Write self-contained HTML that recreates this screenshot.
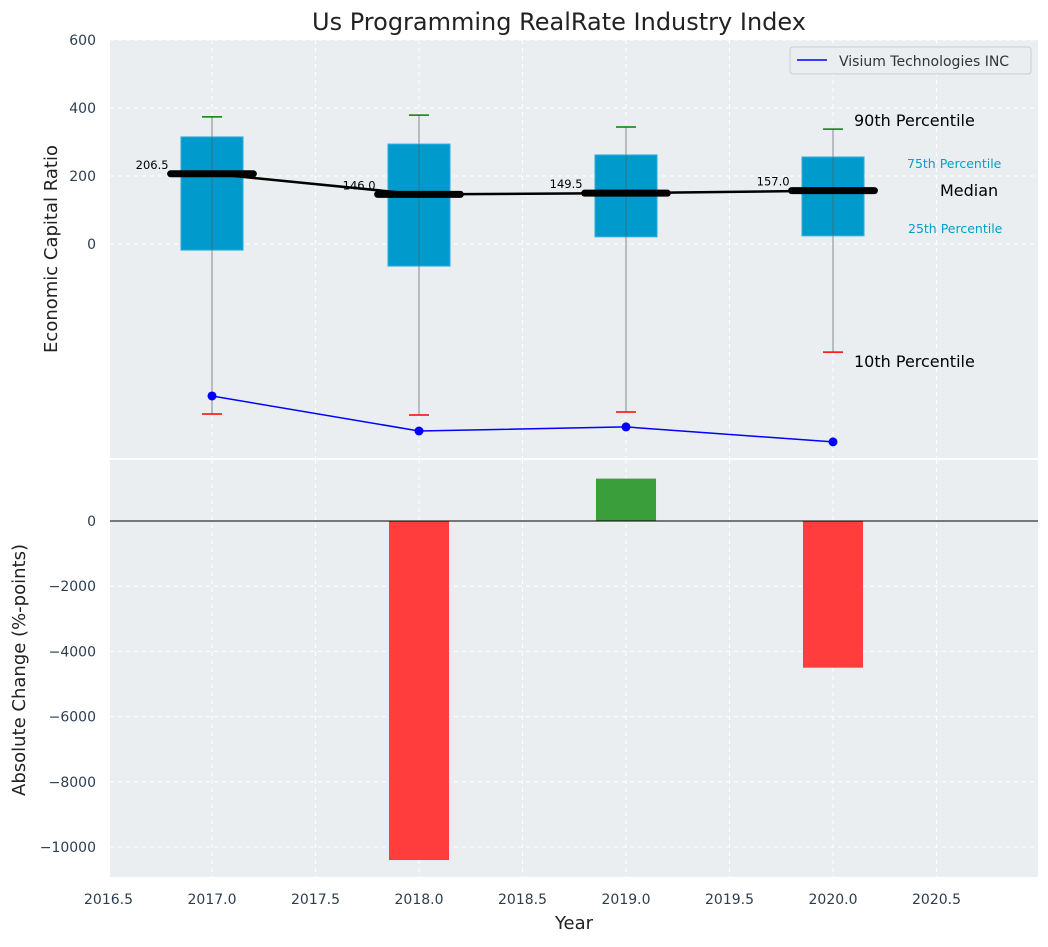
<!DOCTYPE html>
<html><head><meta charset="utf-8">
<style>
body{margin:0;background:#fff;font-family:"Liberation Sans","DejaVu Sans",sans-serif;}
svg text{font-family:"DejaVu Sans","Liberation Sans",sans-serif;}
</style></head>
<body>
<svg id="chart" width="1048" height="942" xmlns="http://www.w3.org/2000/svg">
<text x="559" y="30" text-anchor="middle" font-size="24" fill="#222">Us Programming RealRate Industry Index</text>
</svg>
<script>
const years=[2017,2018,2019,2020];
const p10=[-500,-503,-494,-318];
const p25=[-18,-65,21,24];
const median=[206.5,146.0,149.5,157.0];
const p75=[315,294,262,256];
const p90=[374,379,344,338];
const company=[-447,-550,-538,-582];
const changes=[0,-10400,1300,-4500];
const xTicks=[2016.5,2017.0,2017.5,2018.0,2018.5,2019.0,2019.5,2020.0,2020.5];
const topTicks=[0,200,400,600];
const botTicks=[-10000,-8000,-6000,-4000,-2000,0];

const svg=document.getElementById('chart');
const NS='http://www.w3.org/2000/svg';
function mk(tag,attrs,parent){const e=document.createElementNS(NS,tag);for(const k in attrs)e.setAttribute(k,attrs[k]);(parent||svg).appendChild(e);return e;}
const L=110,R=1038;
const x=v=>212+(v-2017)*207;
const T0=40,T1=458, yT=v=>244-v*0.34;
const B0=460,B1=877, yB=v=>521-v*0.0326;

// backgrounds
let e=mk('rect',{x:L,y:T0,width:R-L,height:T1-T0,fill:'#eaeef0'});

e=mk('rect',{x:L,y:B0,width:R-L,height:B1-B0,fill:'#eaeef0'});


// grid
xTicks.forEach(t=>{
  mk('line',{x1:x(t),x2:x(t),y1:T0,y2:T1,stroke:'#fff','stroke-dasharray':'4,4','stroke-width':1});
  mk('line',{x1:x(t),x2:x(t),y1:B0,y2:B1,stroke:'#fff','stroke-dasharray':'4,4','stroke-width':1});
  e=mk('text',{x:x(t),y:904,'text-anchor':'middle','font-size':14,fill:'#2c3e50'});e.textContent=t.toFixed(1);
  
});
topTicks.forEach(t=>{
  mk('line',{x1:L,x2:R,y1:yT(t),y2:yT(t),stroke:'#fff','stroke-dasharray':'4,4'});
  e=mk('text',{x:96,y:yT(t)+5,'text-anchor':'end','font-size':14,fill:'#2c3e50'});e.textContent=t;
  
});
botTicks.forEach(t=>{
  mk('line',{x1:L,x2:R,y1:yB(t),y2:yB(t),stroke:'#fff','stroke-dasharray':'4,4'});
  e=mk('text',{x:96,y:yB(t)+5,'text-anchor':'end','font-size':14,fill:'#2c3e50'});e.textContent=t<0?'\u2212'+(-t):t;
  
});

// boxes
years.forEach((yr,i)=>{
  const cx=x(yr);
  e=mk('line',{x1:cx,x2:cx,y1:yT(p90[i]),y2:yT(p10[i]),stroke:'#888','stroke-width':1});
  
  e=mk('rect',{x:x(yr-0.15),y:yT(p75[i]),width:x(yr+0.15)-x(yr-0.15),height:yT(p25[i])-yT(p75[i]),fill:'#009bcc',stroke:'#33b0dd','stroke-width':1});
  
  mk('line',{x1:cx,x2:cx,y1:yT(p75[i]),y2:yT(p25[i]),stroke:'#555','stroke-width':1,opacity:0.6});
  e=mk('line',{x1:cx-10,x2:cx+10,y1:yT(p90[i]),y2:yT(p90[i]),stroke:'green','stroke-width':1.5});
  
  e=mk('line',{x1:cx-10,x2:cx+10,y1:yT(p10[i]),y2:yT(p10[i]),stroke:'red','stroke-width':1.5});
  
});
// median line
e=mk('polyline',{points:years.map((yr,i)=>x(yr)+','+yT(median[i])).join(' '),fill:'none',stroke:'#000','stroke-width':2.5});

years.forEach((yr,i)=>{
  e=mk('line',{x1:x(yr-0.2),x2:x(yr+0.2),y1:yT(median[i]),y2:yT(median[i]),stroke:'#000','stroke-width':7,'stroke-linecap':'round'});
  
  e=mk('text',{x:x(yr-0.2)-2,y:yT(median[i])-5,'text-anchor':'end','font-size':11.5,fill:'#000'});e.textContent=median[i].toFixed(1);
  
});
// company line
e=mk('polyline',{points:years.map((yr,i)=>x(yr)+','+yT(company[i])).join(' '),fill:'none',stroke:'blue','stroke-width':1.5});

years.forEach((yr,i)=>{
  e=mk('circle',{cx:x(yr),cy:yT(company[i]),r:4.5,fill:'blue'});
  
});
// annotations
const ann=[[854,126,'90th Percentile',16,'#000'],[907,168,'75th Percentile',12.5,'#00a0cc'],[940,196,'Median',16,'#000'],[908,233,'25th Percentile',12.5,'#00a0cc'],[854,367,'10th Percentile',16,'#000']];
ann.forEach(a=>{e=mk('text',{x:a[0],y:a[1],'font-size':a[3],fill:a[4]});e.textContent=a[2];
  });
// legend
e=mk('rect',{x:790,y:47,width:241,height:27,fill:'#eaeef0',stroke:'#ccc',rx:3});

mk('line',{x1:797,x2:827,y1:60,y2:60,stroke:'blue','stroke-width':1.5});
e=mk('text',{x:839,y:66,'font-size':14,fill:'#333'});e.textContent='Visium Technologies INC';


// bars
years.forEach((yr,i)=>{
  const v=changes[i]; if(v===0)return;
  const y0=yB(Math.max(v,0)),y1=yB(Math.min(v,0));
  e=mk('rect',{x:x(yr-0.145),y:y0,width:x(yr+0.145)-x(yr-0.145),height:y1-y0,fill:v<0?'#ff3d3d':'#3a9e3a'});
  
});
mk('line',{x1:L,x2:R,y1:yB(0),y2:yB(0),stroke:'#000','stroke-width':1});

// axis titles
e=mk('text',{x:0,y:0,'font-size':18,fill:'#222','text-anchor':'middle',transform:'translate(57,249) rotate(-90)'});e.textContent='Economic Capital Ratio';

e=mk('text',{x:0,y:0,'font-size':18,fill:'#222','text-anchor':'middle',transform:'translate(25,670) rotate(-90)'});e.textContent='Absolute Change (%-points)';

e=mk('text',{x:574,y:929,'font-size':18,fill:'#222','text-anchor':'middle'});e.textContent='Year';

</script>
</body></html>
